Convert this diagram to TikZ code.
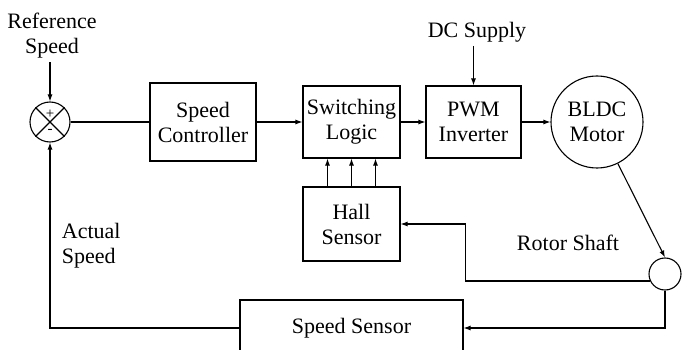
\documentclass[tikz,border=0pt]{standalone}
\usepackage{fontspec}
\setmainfont{Liberation Serif}
\usetikzlibrary{arrows.meta,positioning,calc}

\begin{document}
\begin{tikzpicture}[x=1pt,y=-1pt,>={Latex[length=7pt,width=5pt]},
  font=\fontsize{22}{25}\selectfont,line width=1.1pt,
  blk/.style={draw,align=center,inner sep=0pt},
  rnd/.style={draw,circle,inner sep=0pt,align=center},
  every edge/.style={draw,->}]
\useasboundingbox (0,0) rectangle (688,350);
\node[rnd,minimum size=40] (sum) at (50,122) {};
\draw (sum.45) -- (sum.225) (sum.135) -- (sum.-45);
\node[font=\fontsize{15}{15}\selectfont] at ([yshift=8pt]sum.center) {+};
\node[font=\fontsize{15}{15}\selectfont] at ([yshift=-9pt]sum.center) {-};
\node[align=center] (ref) at (52,36) {Reference\\Speed};
\node[blk,minimum width=106,minimum height=78] (ctrl) at (203,122) {Speed\\Controller};
\node[blk,minimum width=97,minimum height=72] (sw) at (351.5,122) {Switching\\Logic};
\node[blk,minimum width=95,minimum height=72] (pwm) at (473.5,122) {PWM\\Inverter};
\node[rnd,minimum size=92] (motor) at (597,122) {BLDC\\Motor};
\node (dc) at (477,32) {DC Supply};
\node[blk,minimum width=97,minimum height=74] (hall) at (351.5,224) {Hall\\Sensor};
\node[rnd,minimum size=32] (shaft) at (665,274) {};
\node (rotor) at (568,243) {Rotor Shaft};
\node[blk,minimum width=223,minimum height=56] (sens) at (351.5,328) {Speed Sensor};
\node[align=left,anchor=west] (act) at (58,246) {Actual\\Speed};
% forward path
\draw[->] (ref.south -| sum.north) -- (sum);
\draw (sum) -- (ctrl);
\draw (ctrl) edge (sw);
\draw (sw) edge (pwm);
\draw (pwm) edge (motor);
\draw[->] (dc.south -| pwm.north) -- (pwm.north);
\foreach \dx in {-24,0,24}
  \draw[->] ([xshift=\dx pt]hall.north) -- ([xshift=\dx pt]sw.south);
% feedback
\draw[->] (motor) -- (shaft.north);
\draw[->] (shaft.205) -| ([xshift=65pt]hall.east) -- (hall.east);
\draw[->] (shaft.south) |- (sens.east);
\draw[->] (sens.west) -| (sum.south);
\end{tikzpicture}
\end{document}
